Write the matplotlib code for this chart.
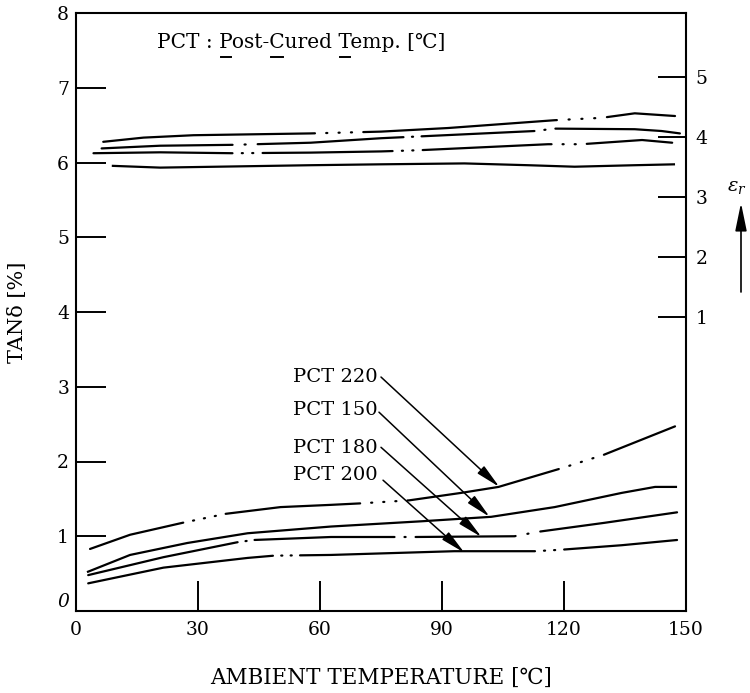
import matplotlib
matplotlib.use('Agg')
import matplotlib.pyplot as plt
from matplotlib.lines import Line2D
from matplotlib.transforms import IdentityTransform

plt.rcParams['font.family'] = ['DejaVu Serif', 'DejaVu Sans']
plt.rcParams['mathtext.fontset'] = 'dejavuserif'
plt.rcParams['lines.scale_dashes'] = False

# ---- data ----
# tan delta [%] vs ambient temperature, lower group (left axis)
t_220 = [3.45, 13.3, 26.2, 36.8, 50.3, 62.7, 70, 81.9, 94.7, 103.9, 119.4, 129.8, 147.3]
tan_220 = [0.83, 1.02, 1.18, 1.30, 1.39, 1.42, 1.44, 1.48, 1.58, 1.66, 1.91, 2.09, 2.47]

t_150 = [2.7, 13.3, 27.4, 42.2, 62.7, 84.9, 102.1, 117.7, 134.2, 142.4, 147.8]
tan_150 = [0.52, 0.75, 0.91, 1.04, 1.13, 1.20, 1.26, 1.39, 1.58, 1.66, 1.66]

t_180 = [3, 21.5, 39.7, 43.7, 62.7, 83.2, 107.8, 113.7, 130, 147.8]
tan_180 = [0.48, 0.72, 0.92, 0.95, 0.99, 0.99, 1.0, 1.06, 1.18, 1.32]

t_200 = [3, 21.5, 42.2, 48.6, 62.7, 93, 112.8, 119.4, 134.2, 147.8]
tan_200 = [0.37, 0.58, 0.71, 0.74, 0.75, 0.80, 0.80, 0.82, 0.88, 0.95]

# relative permittivity vs ambient temperature, upper group (right axis)
te_220 = [6.7, 16.6, 28.9, 57.7, 75, 91.5, 117.7, 129.3, 137.4, 147.3]
er_220 = [3.92, 3.99, 4.03, 4.06, 4.09, 4.15, 4.28, 4.32, 4.395, 4.35]

te_180 = [6.3, 20.7, 38.8, 57.7, 75, 112.8, 117.7, 137.4, 144, 148.5]
er_180 = [3.81, 3.855, 3.87, 3.905, 3.98, 4.10, 4.14, 4.13, 4.10, 4.06]

te_200 = [4.3, 20.7, 38.4, 57.7, 75, 84.4, 116.1, 124.3, 139.2, 146.6]
er_200 = [3.73, 3.745, 3.73, 3.74, 3.76, 3.78, 3.88, 3.88, 3.95, 3.905]

te_150 = [8.8, 20.7, 57.7, 75, 95.5, 111.2, 122.6, 137.4, 147.3]
er_150 = [3.52, 3.49, 3.53, 3.545, 3.56, 3.53, 3.505, 3.53, 3.545]

x_ticks = [0, 30, 60, 90, 120, 150]
tan_ticks = [0, 1, 2, 3, 4, 5, 6, 7, 8]
er_ticks = [1, 2, 3, 4, 5]

labels = ['PCT 220', 'PCT 150', 'PCT 180', 'PCT 200']
label_pos = [(53.3, 3.13), (53.3, 2.69), (53.3, 2.18), (53.3, 1.82)]
arrow_from = [(75.0, 3.13), (74.5, 2.66), (75.0, 2.19), (75.5, 1.75)]
arrow_to = [(104.1, 1.66), (101.7, 1.26), (99.7, 0.99), (95.5, 0.78)]

PX = 0.72  # points per pixel at dpi 100


def broken(runs, gaps, dots):
    # solid runs interrupted by a few dots, lengths in pixels
    seq = []
    for run, g in zip(runs, gaps):
        seq += [run * PX, g * PX]
        for _ in range(dots):
            seq += [0.8, g * PX]
    seq += [3000, 1]
    return (0, seq)


fig = plt.figure(figsize=(7.5, 6.93), dpi=100)
ax = fig.add_axes([76 / 750, 82 / 693, 610 / 750, 598 / 693])
ax.set_xlim(0, 150)
ax.set_ylim(0, 8)
ax.set_xticks(x_ticks)
ax.set_yticks(tan_ticks)
ax.tick_params(direction='in', length=21.6, width=1.4, labelsize=13.5)
ax.tick_params(axis='x', pad=7)
ax.tick_params(axis='y', pad=5)
for s in ax.spines.values():
    s.set_linewidth(1.5)
ylab0 = ax.get_yticklabels()[0]
ylab0.set_style('italic')
ylab0.set_verticalalignment('bottom')

ax2 = ax.twinx()
ax2.set_ylim(-3.9, 6.067)
ax2.set_yticks(er_ticks)
ax2.tick_params(direction='in', length=20, width=1.4, labelsize=13.5, pad=7)
for s in ax2.spines.values():
    s.set_visible(False)

kw = dict(color='black', lw=1.6, dash_capstyle='round', solid_capstyle='butt')
ax.plot(t_220, tan_220, linestyle=broken([97, 135, 155], [10, 11, 11], 3), **kw)
ax.plot(t_150, tan_150, linestyle='-', **kw)
ax.plot(t_180, tan_180, linestyle=broken([153, 140, 100], [8, 10, 12], 1), **kw)
ax.plot(t_200, tan_200, linestyle=broken([187, 235], [8.3, 9], 2), **kw)

ax2.plot(te_220, er_220, linestyle=broken([212, 194], [11.25, 11.7], 3), **kw)
ax2.plot(te_180, er_180, linestyle=broken([131, 146, 113], [12, 8.5, 10], 1), **kw)
ax2.plot(te_200, er_200, linestyle=broken([139, 130, 129], [9.3, 9.3, 11], 2), **kw)
ax2.plot(te_150, er_150, linestyle='-', **kw)

for lab, p, a, b in zip(labels, label_pos, arrow_from, arrow_to):
    ax.text(p[0], p[1], lab, fontsize=14, ha='left', va='center')
    ax.annotate('', xy=b, xytext=a,
                arrowprops=dict(arrowstyle='-|>,head_length=1.5,head_width=0.3',
                                color='black', lw=1.1, shrinkA=0, shrinkB=0))

# title note with underlined initials
title_fs = 14.5
title = ax.text((157 - 76) / 610, (611 - 48.5) / 598, 'PCT : Post-Cured Temp. [℃]',
                transform=ax.transAxes, fontsize=title_fs, ha='left', va='baseline')

fig.text(381 / 750, 1 - 678 / 693, 'AMBIENT TEMPERATURE [℃]', fontsize=15.5,
         ha='center', va='center')
fig.text(18 / 750, 1 - 312 / 693, 'TANδ [%]', fontsize=15, rotation=90,
         ha='center', va='center')

fig.text(737 / 750, 1 - 187 / 693, r'$\varepsilon_r$', fontsize=14,
         ha='center', va='center')
ax.annotate('', xy=(741, 693 - 203), xytext=(741, 693 - 292),
            xycoords='figure pixels', textcoords='figure pixels', annotation_clip=False,
            arrowprops=dict(arrowstyle='-|>,head_length=1.7,head_width=0.35',
                            color='black', lw=1.2, shrinkA=0, shrinkB=0))

fig.canvas.draw()
r = fig.canvas.get_renderer()


def text_width(s):
    t = fig.text(0, 0, s, fontsize=title_fs)
    w = t.get_window_extent(r).width
    t.remove()
    return w


bb = title.get_window_extent(r)
base_y = title.get_transform().transform(title.get_position())[1]
for prefix, ch in [('PCT : ', 'P'), ('PCT : Post-', 'C'), ('PCT : Post-Cured ', 'T')]:
    end = bb.x0 + text_width(prefix + ch)
    w = text_width(ch)
    fig.add_artist(Line2D([end - w + 2, end - 2], [base_y - 8, base_y - 8],
                          transform=IdentityTransform(), color='black', lw=1.4))

fig.savefig('out.png', dpi=100)
